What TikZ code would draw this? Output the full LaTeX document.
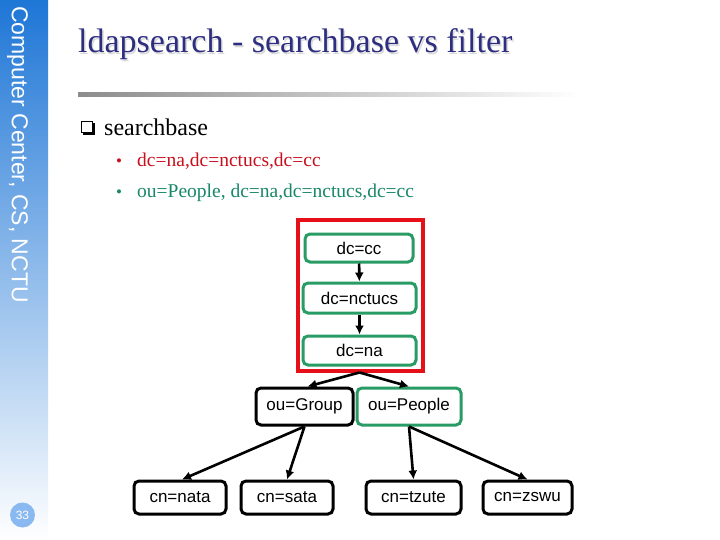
\documentclass[tikz,border=0pt]{standalone}
\usepackage{fontspec}
\setmainfont{Liberation Serif}
\newfontfamily\arial{Liberation Sans}
\usetikzlibrary{arrows.meta}
\definecolor{sideblue}{RGB}{30,118,214}
\definecolor{sidemid}{RGB}{150,184,234}
\definecolor{navy}{RGB}{46,46,128}
\definecolor{redtxt}{RGB}{200,16,30}
\definecolor{tealtxt}{RGB}{24,136,104}
\definecolor{boxgreen}{RGB}{40,156,100}
\definecolor{framered}{RGB}{230,16,24}
\definecolor{pagecirc}{RGB}{138,184,240}
\tikzset{
  x=1pt, y=-1pt,
  treebox/.style={draw, rounded corners=5pt, line width=3pt, fill=white,
    font=\arial\fontsize{17}{20}\selectfont, inner sep=0pt},
  greenbox/.style={treebox, draw=boxgreen},
  blackbox/.style={treebox, draw=black},
  conn/.style={line width=2.6pt, -{Latex[length=9pt,width=9pt]}},
}
\begin{document}
\begin{tikzpicture}
\useasboundingbox (0,0) rectangle (720,540);
\fill[white] (0,0) rectangle (720,540);
% sidebar
\shade[top color=sideblue, middle color=sidemid, bottom color=white] (0,0) rectangle (48,540);
\node[rotate=-90, anchor=base west, text=white, font=\arial\fontsize{23}{26}\selectfont, inner sep=0pt] (side) at (12,6) {Computer Center, CS, NCTU};
\node[circle, fill=pagecirc, minimum size=25pt, inner sep=0pt, text=white, font=\arial\fontsize{12}{14}\selectfont] (page) at (22.5,515) {33};
% title
\node[anchor=base west, inner sep=0pt, text=black!15, font=\fontsize{34}{38}\selectfont] (titleshadow) at (79.5,54.5) {ldapsearch - searchbase vs filter};
\node[anchor=base west, inner sep=0pt, text=navy, font=\fontsize{34}{38}\selectfont] (title) at (78,53) {ldapsearch - searchbase vs filter};
\shade[left color=black!45, right color=white] (78,93) rectangle (580,97);
% checkbox bullet
\fill[black] (83,123) rectangle (95,135);
\draw[fill=white, line width=0.8pt] (81,121) rectangle (92.5,132.5);
\node[anchor=base west, inner sep=0pt, font=\fontsize{24}{28}\selectfont] (sb) at (104,136) {searchbase};
\node[anchor=base west, inner sep=0pt, text=redtxt, font=\fontsize{17}{20}\selectfont] (b1) at (116,167) {•};
\node[anchor=base west, inner sep=0pt, text=redtxt, font=\fontsize{19.5}{22}\selectfont] (t1) at (137,167) {dc=na,dc=nctucs,dc=cc};
\node[anchor=base west, inner sep=0pt, text=tealtxt, font=\fontsize{17}{20}\selectfont] (b2) at (116,197) {•};
\node[anchor=base west, inner sep=0pt, text=tealtxt, font=\fontsize{19.5}{22}\selectfont] (t2) at (137,197) {ou=People, dc=na,dc=nctucs,dc=cc};
% red frame
\draw[framered, line width=4pt] (298,220) rectangle (423,371);
% tree
\node[greenbox, minimum width=108pt, minimum height=28pt] (cc) at (359,248) {dc=cc};
\node[greenbox, minimum width=113pt, minimum height=30pt] (nctucs) at (359.5,298) {dc=nctucs};
\node[greenbox, minimum width=113pt, minimum height=29pt] (na) at (359.5,350.5) {dc=na};
\node[blackbox, minimum width=97pt, minimum height=37pt] (group) at (304.5,406.5) {ou=Group};
\node[greenbox, minimum width=104pt, minimum height=37pt] (people) at (409,406.5) {ou=People};
\node[blackbox, minimum width=92pt, minimum height=33pt] (nata) at (180,497.5) {cn=nata};
\node[blackbox, minimum width=92pt, minimum height=33pt] (sata) at (287,497.5) {cn=sata};
\node[blackbox, minimum width=95pt, minimum height=33pt] (tzute) at (413.5,497.5) {cn=tzute};
\node[blackbox, minimum width=89pt, minimum height=33pt] (zswu) at (527.5,497.5) {cn=zswu};
\draw[conn] (cc) -- (nctucs);
\draw[conn] (nctucs) -- (na);
\draw[conn] ([yshift=-6pt]na.south) -- ([xshift=3pt]group.north);
\draw[conn] ([yshift=-6pt]na.south) -- (people.north);
\draw[conn] (group.south) -- ([xshift=2pt]nata.north);
\draw[conn] (group.south) -- (sata.north);
\draw[conn] (people.south) -- (tzute.north);
\draw[conn] (people.south) -- (zswu.north);
\end{tikzpicture}
\end{document}
